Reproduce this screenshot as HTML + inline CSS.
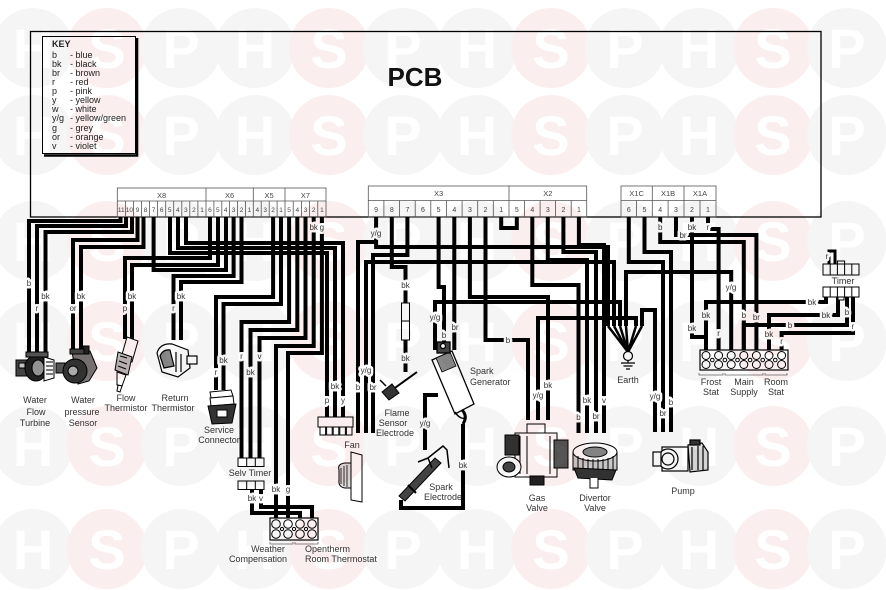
<!DOCTYPE html>
<html><head><meta charset="utf-8"><style>
html,body{margin:0;padding:0;background:#fff;}
body{width:886px;height:590px;position:relative;overflow:hidden;}
svg{position:absolute;left:0;top:0;}
.w{fill:none;stroke:#000;stroke-width:4;stroke-linejoin:miter;stroke-linecap:butt}
.t{fill:none;stroke:#000;stroke-width:1}
.l{font:8px "Liberation Sans",sans-serif;fill:#333;stroke:#fff;stroke-width:5px;stroke-linejoin:round;paint-order:stroke;text-anchor:middle}
.c{font:9px "Liberation Sans",sans-serif;fill:#333;text-anchor:middle}
.k{font:9px "Liberation Sans",sans-serif;fill:#222}
.pn{font:6.5px "Liberation Sans",sans-serif;fill:#444;text-anchor:middle}
.gl{font:7.5px "Liberation Sans",sans-serif;fill:#444;text-anchor:middle}
.s{fill:none;stroke:#555;stroke-width:0.8}
#wm{mix-blend-mode:multiply;}
</style></head><body>
<svg width="886" height="590" viewBox="0 0 886 590">
<!-- PCB -->
<rect x="30.5" y="31.5" width="790.5" height="185.5" fill="#fff" stroke="#000" stroke-width="1.3"/>
<text x="415" y="86" style="font:bold 26px 'Liberation Sans',sans-serif;fill:#111" text-anchor="middle">PCB</text>
<!-- KEY -->
<rect x="42.5" y="36.5" width="93" height="117" fill="#fff" stroke="#000" stroke-width="1"/>
<path d="M137,38 V155.5 H44" fill="none" stroke="#000" stroke-width="2.6"/>
<text x="52" y="47" style="font:bold 9px 'Liberation Sans',sans-serif;fill:#222">KEY</text>
<g class="k">
<text x="52" y="58">b</text><text x="70" y="58">- blue</text>
<text x="52" y="67">bk</text><text x="70" y="67">- black</text>
<text x="52" y="76">br</text><text x="70" y="76">- brown</text>
<text x="52" y="85">r</text><text x="70" y="85">- red</text>
<text x="52" y="94">p</text><text x="70" y="94">- pink</text>
<text x="52" y="103">y</text><text x="70" y="103">- yellow</text>
<text x="52" y="112">w</text><text x="70" y="112">- white</text>
<text x="52" y="121">y/g</text><text x="70" y="121">- yellow/green</text>
<text x="52" y="131">g</text><text x="70" y="131">- grey</text>
<text x="52" y="140">or</text><text x="70" y="140">- orange</text>
<text x="52" y="149">v</text><text x="70" y="149">- violet</text>
</g>

<!-- connector strips -->
<g>
<rect x="117.3" y="188" width="208.7" height="29" fill="#fff" class="s"/>
<line x1="117.3" y1="201" x2="326" y2="201" class="s"/>
<line x1="206" y1="188" x2="206" y2="217" class="s"/>
<line x1="253.3" y1="188" x2="253.3" y2="217" class="s"/>
<line x1="285" y1="188" x2="285" y2="217" class="s"/>
<path class="s" d="M125.4,201V217M133.4,201V217M141.5,201V217M149.5,201V217M157.6,201V217M165.7,201V217M173.7,201V217M181.8,201V217M189.8,201V217M197.9,201V217M213.9,201V217M221.8,201V217M229.6,201V217M237.5,201V217M245.4,201V217M261.2,201V217M269.2,201V217M277.1,201V217M293.2,201V217M301.4,201V217M309.6,201V217M317.8,201V217"/>
<text class="gl" x="161.6" y="198">X8</text><text class="gl" x="229.6" y="198">X6</text><text class="gl" x="269.1" y="198">X5</text><text class="gl" x="305.5" y="198">X7</text>
<g class="pn">
<text x="121.3" y="212">11</text><text x="129.4" y="212">10</text><text x="137.5" y="212">9</text><text x="145.5" y="212">8</text><text x="153.6" y="212">7</text><text x="161.7" y="212">6</text><text x="169.7" y="212">5</text><text x="177.8" y="212">4</text><text x="185.8" y="212">3</text><text x="193.9" y="212">2</text><text x="202" y="212">1</text>
<text x="209.9" y="212">6</text><text x="217.8" y="212">5</text><text x="225.7" y="212">4</text><text x="233.6" y="212">3</text><text x="241.5" y="212">2</text><text x="249.4" y="212">1</text>
<text x="257.3" y="212">4</text><text x="265.2" y="212">3</text><text x="273.1" y="212">2</text><text x="281" y="212">1</text>
<text x="289.1" y="212">5</text><text x="297.3" y="212">4</text><text x="305.5" y="212">3</text><text x="313.7" y="212">2</text><text x="321.9" y="212">1</text>
</g>
<rect x="368.3" y="186" width="218.4" height="31" fill="#fff" class="s"/>
<line x1="368.3" y1="200.5" x2="586.7" y2="200.5" class="s"/>
<line x1="509" y1="186" x2="509" y2="217" class="s"/>
<path class="s" d="M383.9,200.5V217M399.6,200.5V217M415.2,200.5V217M430.8,200.5V217M446.5,200.5V217M462.1,200.5V217M477.7,200.5V217M493.3,200.5V217M524.5,200.5V217M540.1,200.5V217M555.6,200.5V217M571.2,200.5V217"/>
<text class="gl" x="438.6" y="196">X3</text><text class="gl" x="547.8" y="196">X2</text>
<g class="pn" style="font-size:7px">
<text x="376.1" y="212">9</text><text x="391.8" y="212">8</text><text x="407.4" y="212">7</text><text x="423" y="212">6</text><text x="438.6" y="212">5</text><text x="454.3" y="212">4</text><text x="469.9" y="212">3</text><text x="485.5" y="212">2</text><text x="501.2" y="212">1</text>
<text x="516.8" y="212">5</text><text x="532.3" y="212">4</text><text x="547.8" y="212">3</text><text x="563.4" y="212">2</text><text x="578.9" y="212">1</text>
</g>
<rect x="621" y="186" width="95" height="31" fill="#fff" class="s"/>
<line x1="621" y1="200.5" x2="716" y2="200.5" class="s"/>
<line x1="652.3" y1="186" x2="652.3" y2="217" class="s"/>
<line x1="684" y1="186" x2="684" y2="217" class="s"/>
<path class="s" d="M636.6,200.5V217M668.1,200.5V217M700,200.5V217"/>
<text class="gl" x="636.6" y="196">X1C</text><text class="gl" x="668.1" y="196">X1B</text><text class="gl" x="700" y="196">X1A</text>
<g class="pn" style="font-size:7px">
<text x="628.8" y="212">6</text><text x="644.5" y="212">5</text><text x="660.2" y="212">4</text><text x="676" y="212">3</text><text x="692" y="212">2</text><text x="708" y="212">1</text>
</g>
</g>

<!-- WIRES left group -->
<g class="w">
<path d="M120.5,217V221H29V352"/>
<path d="M126,217V226H37V352"/>
<path d="M132,217V232H45.5V352"/>
<path d="M137.5,217V240H73V350"/>
<path d="M143.5,217V247H81V350"/>
<path d="M210,217V258H125V339"/>
<path d="M218,217V265H132V339"/>
<path d="M226,217V270H153.6V217"/>
<path d="M233.6,217V276H173.5V340"/>
<path d="M241.5,217V282H181V340"/>
<path d="M186,217V243H343V417"/>
<path d="M178,217V248H335V417"/>
<path d="M170,217V253H327V417"/>
<path d="M273.1,217V297H216V390"/>
<path d="M281,217V304H223.5V390"/>
<path d="M289.1,217V322H241.5V458"/>
<path d="M297.3,217V330H250.5V458"/>
<path d="M305.5,217V338H259.5V458"/>
<path d="M313.7,217V346H276V518"/>
<path d="M321.9,217V353H288V518"/>
<path d="M252,489V513H300V518"/>
<path d="M261,489V507H312V518"/>
</g>
<!-- WIRES middle -->
<g class="w">
<path d="M376.1,217V247H608V326"/>
<path d="M376.1,242H358V433"/>
<path d="M407.4,217V255H373V433"/>
<path d="M366,433V262H614V326"/>
<path d="M391.8,217V267H405.5V303"/>
<path d="M405.5,340V372"/>
<path d="M438.6,217V287H444V350"/>
<path d="M454.3,217V350"/>
<path d="M435,350V302H620V326"/>
<path d="M485.5,217V340H528V420"/>
<path d="M469.9,217V297H548V420"/>
<path d="M538,420V318H636V326"/>
<path d="M501.2,217V228H516.8V217"/>
<path d="M532.3,217V285H578.5V433"/>
<path d="M547.8,217V260H587V433"/>
<path d="M563.4,217V252H596V433"/>
<path d="M578.9,217V245H604V433"/>
<path d="M628.8,217V262H663V432"/>
<path d="M644.5,217V252H671V432"/>
<path d="M655,432V310H642V326"/>
<path d="M731.2,350V272H626V326"/>
<path d="M438,395H425V450"/>
<path d="M463,424V508H401V500"/>
</g>
<!-- WIRES right -->
<g class="w">
<path d="M660.2,217V242H743.8V350"/>
<path d="M676,217V235H756.4V350"/>
<path d="M692,217V337H706V350"/>
<path d="M708,217V229H718.6V350"/>
<path d="M706,350V302H826V297"/>
<path d="M769,350V315H838V297"/>
<path d="M743.8,350V325H847V297"/>
<path d="M781.6,350V333H853V297"/>
<path d="M829,264V251H835V264" style="stroke-width:3"/>
</g>
<!-- earth converge -->
<g stroke="#000" stroke-width="2.5" fill="none">
<path d="M608,326L628,352M614,326L628,352M620,326L628,352M626,326L628,352M636,326L628,352M642,326L628,352"/>
</g>
<circle cx="628" cy="356" r="4.5" fill="#fff" stroke="#000" stroke-width="1.2"/>
<path d="M628,360.5V363M621,363H635M623.5,366H632.5M626,369H630" stroke="#000" stroke-width="1.2"/>

<!-- resistor -->
<rect x="401.5" y="303" width="8" height="37" fill="#fff" stroke="#000" stroke-width="1"/>
<line x1="401.5" y1="321" x2="409.5" y2="321" stroke="#000" stroke-width="1"/>

<!-- terminal block -->
<rect x="700" y="350" width="88" height="20" fill="#fff" stroke="#000" stroke-width="1.2"/>
<g fill="#fff" stroke="#000" stroke-width="1">
<circle cx="706" cy="355.5" r="4"/><circle cx="706" cy="364.5" r="4"/>
<circle cx="718.6" cy="355.5" r="4"/><circle cx="718.6" cy="364.5" r="4"/>
<circle cx="731.2" cy="355.5" r="4"/><circle cx="731.2" cy="364.5" r="4"/>
<circle cx="743.8" cy="355.5" r="4"/><circle cx="743.8" cy="364.5" r="4"/>
<circle cx="756.4" cy="355.5" r="4"/><circle cx="756.4" cy="364.5" r="4"/>
<circle cx="769" cy="355.5" r="4"/><circle cx="769" cy="364.5" r="4"/>
<circle cx="781.6" cy="355.5" r="4"/><circle cx="781.6" cy="364.5" r="4"/>
<circle cx="712.3" cy="360" r="1.8"/><circle cx="724.9" cy="360" r="1.8"/><circle cx="737.5" cy="360" r="1.8"/><circle cx="750.1" cy="360" r="1.8"/><circle cx="762.7" cy="360" r="1.8"/><circle cx="775.3" cy="360" r="1.8"/>
</g>
<path d="M699,373V375H723V373M725,373V375H763V373M765,373V375H787V373" fill="none" stroke="#666" stroke-width="0.8"/>

<!-- timer -->
<g fill="#fff" stroke="#000" stroke-width="1">
<rect x="823" y="264" width="36" height="11"/>
<path d="M830.2,264V275M837.4,264V275M844.6,264V275M851.8,264V275"/>
<rect x="837.4" y="261" width="7.2" height="3"/>
<rect x="823" y="287" width="36" height="10"/>
<path d="M830.2,287V297M837.4,287V297M844.6,287V297M851.8,287V297"/>
<rect x="838" y="297" width="6" height="3"/>
</g>

<!-- weather comp block -->
<rect x="270" y="518" width="48" height="22" fill="#fff" stroke="#000" stroke-width="1.2"/>
<g fill="#fff" stroke="#000" stroke-width="1">
<circle cx="276" cy="524" r="4.3"/><circle cx="276" cy="534" r="4.3"/>
<circle cx="288" cy="524" r="4.3"/><circle cx="288" cy="534" r="4.3"/>
<circle cx="300" cy="524" r="4.3"/><circle cx="300" cy="534" r="4.3"/>
<circle cx="312" cy="524" r="4.3"/><circle cx="312" cy="534" r="4.3"/>
<circle cx="282" cy="529" r="1.6"/><circle cx="294" cy="529" r="1.6"/><circle cx="306" cy="529" r="1.6"/>
</g>
<path d="M270,542V544H293V542M295,542V544H318V542" fill="none" stroke="#666" stroke-width="0.8"/>

<!-- selv timer boxes -->
<g fill="#fff" stroke="#000" stroke-width="1">
<rect x="238" y="458" width="26" height="8.5"/><path d="M246.7,458V466.5M255.3,458V466.5"/>
<rect x="238" y="481" width="26" height="8.5"/><path d="M246.7,481V489.5M255.3,481V489.5"/>
</g>

<!-- fan connector & fan -->
<g fill="#fff" stroke="#000" stroke-width="1">
<rect x="318" y="417" width="35" height="10"/>
<rect x="320" y="427" width="5.6" height="8"/><rect x="326.6" y="427" width="5.6" height="8"/><rect x="333.2" y="427" width="5.6" height="8"/><rect x="339.8" y="427" width="5.6" height="8"/><rect x="346.4" y="427" width="5.6" height="8"/>
<path d="M351,452L362,455V502L351,500Z"/>
<path d="M339,470Q337,464 345,463H351V488H345Q338,487 339,480Z" fill="#ddd"/>
<path d="M341,468V484M344,466V486M347,465V487" stroke-width="0.8"/>
</g>

<!-- components -->
<g stroke="#000" stroke-width="1">
<rect x="16" y="360" width="12" height="16" fill="#444"/>
<rect x="19" y="363" width="6" height="5" fill="#ccc"/>
<ellipse cx="36" cy="368" rx="11" ry="13" fill="#222"/>
<ellipse cx="38" cy="368" rx="6" ry="8" fill="#999"/>
<path d="M44,357L54,360V378L44,381Z" fill="#fff"/>
<path d="M46,362h7M46,366h7M46,370h7M46,374h7" fill="none"/>
<rect x="26" y="352" width="22" height="5" fill="#555"/>
</g>
<g stroke="#000" stroke-width="1">
<rect x="56" y="363" width="9" height="10" fill="#555"/>
<path d="M72,352L90,351L97,368L89,381L78,384Z" fill="#777"/>
<ellipse cx="75" cy="371" rx="12" ry="12" fill="#333"/>
<ellipse cx="73" cy="371" rx="5" ry="5" fill="#aaa"/>
<rect x="83" y="346" width="6" height="8" fill="#222"/>
<rect x="70" y="349" width="14" height="5" fill="#444"/>
</g>
<g stroke="#000" stroke-width="1">
<path d="M127,337L138,341L132,362L121,358Z" fill="#fff"/>
<path d="M118,352L132,357L128,375L115,370Z" fill="#bbb"/>
<path d="M120,356L127,358M119,361L127,364M118,366L126,369" fill="none"/>
<path d="M117,372L126,375L122,386L117,385Z" fill="#fff"/>
<path d="M118,385L122,386L120,392L117,391Z" fill="#fff"/>
</g>
<g stroke="#000" stroke-width="1.2">
<path d="M157,353Q160,343 172,344L188,350L190,368L178,377L162,372Z" fill="#fff"/>
<path d="M160,356Q163,349 170,350L174,366L164,368Z" fill="#888"/>
<rect x="187" y="356" width="10" height="8" fill="#fff"/>
<path d="M176,352V372M181,354V372" fill="none"/>
</g>
<g stroke="#000" stroke-width="1">
<path d="M210,392L231,390L233,396L211,398Z" fill="#fff"/>
<path d="M210,398L233,396L234,404L211,406Z" fill="#fff"/>
<path d="M208,406L236,404L232,423L212,424Z" fill="#333"/>
<rect x="217" y="410" width="10" height="7" fill="#fff"/>
</g>
<g stroke="#000">
<line x1="392" y1="390" x2="417" y2="372" stroke-width="2"/>
<path d="M382,392L392,384L399,393L389,400Z" fill="#333" stroke-width="1"/>
<path d="M386,386L380,380" stroke-width="1.5"/>
</g>
<g stroke="#000" stroke-width="1.3">
<path d="M432,360L452,351L474,404L455,414Z" fill="#fff"/>
<path d="M436,358L450,352L456,366L442,372Z" fill="#888" stroke-width="0.8"/>
<rect x="437" y="342" width="13" height="11" fill="#444"/>
<circle cx="443" cy="346" r="2.5" fill="#fff"/>
<path d="M462,410Q468,416 463,424" fill="none" stroke-width="3"/>
<path d="M455,412Q460,420 466,418" fill="none" stroke-width="1.5"/>
</g>
<g stroke="#000">
<path d="M399,496L435,458L441,463L405,501Z" fill="#444" stroke-width="1"/>
<path d="M408,485L416,493" stroke-width="2"/>
<path d="M428,458L443,446L447,450L449,468" fill="none" stroke-width="1.5"/>
<path d="M418,462L428,458L432,468" fill="none" stroke-width="1.5"/>
</g>
<g stroke="#000" stroke-width="1">
<rect x="527" y="424" width="18" height="10" fill="#fff"/>
<rect x="515" y="433" width="42" height="44" fill="#fff"/>
<path d="M520,436V474M527,436V474M550,436V474" fill="none"/>
<rect x="505" y="435" width="14" height="20" fill="#333"/>
<ellipse cx="509" cy="467" rx="12" ry="10" fill="#fff"/>
<ellipse cx="509" cy="467" rx="6" ry="5" fill="#444"/>
<rect x="554" y="440" width="14" height="28" fill="#555"/>
<rect x="530" y="476" width="14" height="9" fill="#222"/>
</g>
<g stroke="#000" stroke-width="1">
<path d="M573,452V470H617V452" fill="#ccc"/>
<ellipse cx="595" cy="452" rx="22" ry="9" fill="#fff"/>
<ellipse cx="595" cy="452" rx="12" ry="5" fill="#888"/>
<path d="M578,456V470M583,458V471M588,459V471M593,459V471M598,459V471M603,459V471M608,458V471M613,456V470" fill="none"/>
<path d="M574,468L616,470L612,480L578,478Z" fill="#333"/>
<path d="M590,478V488H598V478" fill="#fff"/>
</g>
<g stroke="#000" stroke-width="1.2">
<rect x="662" y="447" width="26" height="24" fill="#fff"/>
<circle cx="668" cy="459" r="10" fill="#fff"/>
<circle cx="668" cy="459" r="6" fill="#fff"/>
<rect x="653" y="452" width="8" height="14" fill="#fff"/>
<path d="M688,445L702,443L708,452L708,470L690,472Z" fill="#ddd"/>
<path d="M692,447V470M698,446V470M703,446V470" fill="none"/>
<rect x="690" y="440" width="10" height="5" fill="#333"/>
</g>

<!-- wire labels -->
<g class="l">
<text x="29" y="286">b</text><text x="37" y="311">r</text><text x="45.5" y="299">bk</text>
<text x="81" y="299">bk</text><text x="73" y="311">or</text>
<text x="132" y="299">bk</text><text x="125" y="311">p</text>
<text x="181" y="299">bk</text><text x="173.5" y="311">r</text>
<text x="223.5" y="363">bk</text><text x="216" y="375">r</text>
<text x="241.5" y="359">r</text><text x="259.5" y="359">v</text><text x="250.5" y="375">bk</text>
<text x="335" y="389">bk</text><text x="327" y="403">p</text><text x="343" y="403">y</text>
<text x="366" y="373">y/g</text><text x="358" y="390">b</text><text x="373" y="390">br</text>
<text x="313.7" y="230">bk</text><text x="321.9" y="230">g</text>
<text x="376" y="236">y/g</text>
<text x="405.5" y="288">bk</text><text x="405.5" y="361">bk</text>
<text x="435" y="320">y/g</text><text x="444" y="338">b</text><text x="455" y="330">br</text>
<text x="508" y="343">b</text><text x="538" y="398">y/g</text><text x="548" y="388">bk</text>
<text x="587" y="403">bk</text><text x="604" y="403">v</text><text x="578.5" y="420">b</text><text x="596" y="419">br</text>
<text x="655" y="399">y/g</text><text x="671" y="405">b</text><text x="663" y="416">br</text>
<text x="660.2" y="230">b</text><text x="683" y="238">br</text><text x="692" y="230">bk</text><text x="708" y="230">r</text>
<text x="731" y="290">y/g</text><text x="706" y="318">bk</text><text x="692" y="331">bk</text>
<text x="743.8" y="318">b</text><text x="756.4" y="320">br</text><text x="718.6" y="336">r</text>
<text x="769" y="337">bk</text><text x="781.6" y="344">r</text><text x="790" y="328">b</text>
<text x="812" y="305">bk</text><text x="826" y="318">bk</text><text x="847" y="315">b</text><text x="853" y="329">r</text>
<text x="827" y="259">r</text>
<text x="252" y="501">bk</text><text x="261" y="501">v</text>
<text x="276" y="492">bk</text><text x="288" y="492">g</text>
<text x="425" y="426">y/g</text><text x="463" y="468">bk</text>
</g>

<!-- component labels -->
<g class="c">
<text x="35" y="403">Water</text><text x="36" y="415">Flow</text><text x="35" y="426">Turbine</text>
<text x="83" y="403">Water</text><text x="82" y="415">pressure</text><text x="83" y="426">Sensor</text>
<text x="126" y="401">Flow</text><text x="126" y="411">Thermistor</text>
<text x="175" y="401">Return</text><text x="173" y="411">Thermistor</text>
<text x="219" y="433">Service</text><text x="219" y="443">Connector</text>
<text x="250" y="476">Selv Timer</text>
<text x="268" y="552">Weather</text><text x="258" y="562">Compensation</text>
<text x="305" y="552" text-anchor="start">Opentherm</text><text x="305" y="562" text-anchor="start">Room Thermostat</text>
<text x="352" y="448">Fan</text>
<text x="397" y="416">Flame</text><text x="393" y="426">Sensor</text><text x="395" y="436">Electrode</text>
<text x="470" y="374" text-anchor="start">Spark</text><text x="470" y="385" text-anchor="start">Generator</text>
<text x="441" y="490">Spark</text><text x="443" y="500">Electrode</text>
<text x="537" y="501">Gas</text><text x="537" y="511">Valve</text>
<text x="595" y="501">Divertor</text><text x="595" y="511">Valve</text>
<text x="683" y="494">Pump</text>
<text x="628" y="383">Earth</text>
<text x="711" y="385">Frost</text><text x="711" y="395">Stat</text>
<text x="744" y="385">Main</text><text x="744" y="395">Supply</text>
<text x="776" y="385">Room</text><text x="776" y="395">Stat</text>
<text x="843" y="284">Timer</text>
</g>
</svg>

<!-- watermark overlay -->
<svg id="wm" width="886" height="590" viewBox="0 0 886 590">
<defs>
<g id="row">
<circle cx="33" cy="0" r="40" fill="#f5f5f5"/><circle cx="107" cy="0" r="40" fill="#fbeeee"/><circle cx="181" cy="0" r="40" fill="#f5f5f5"/>
<circle cx="255" cy="0" r="40" fill="#f5f5f5"/><circle cx="329" cy="0" r="40" fill="#fbeeee"/><circle cx="403" cy="0" r="40" fill="#f5f5f5"/>
<circle cx="477" cy="0" r="40" fill="#f5f5f5"/><circle cx="551" cy="0" r="40" fill="#fbeeee"/><circle cx="625" cy="0" r="40" fill="#f5f5f5"/>
<circle cx="699" cy="0" r="40" fill="#f5f5f5"/><circle cx="773" cy="0" r="40" fill="#fbeeee"/><circle cx="847" cy="0" r="40" fill="#f5f5f5"/>
<g style="font:bold 56px 'Liberation Sans',sans-serif" fill="#fff" text-anchor="middle">
<text x="33" y="20">H</text><text x="107" y="20">S</text><text x="181" y="20">P</text>
<text x="255" y="20">H</text><text x="329" y="20">S</text><text x="403" y="20">P</text>
<text x="477" y="20">H</text><text x="551" y="20">S</text><text x="625" y="20">P</text>
<text x="699" y="20">H</text><text x="773" y="20">S</text><text x="847" y="20">P</text>
</g>
</g>
</defs>
<use href="#row" transform="translate(0,48)"/>
<use href="#row" transform="translate(0,135)"/>
<use href="#row" transform="translate(0,241)"/>
<use href="#row" transform="translate(0,341)"/>
<use href="#row" transform="translate(0,446)"/>
<use href="#row" transform="translate(0,549)"/>
</svg>
</body></html>
